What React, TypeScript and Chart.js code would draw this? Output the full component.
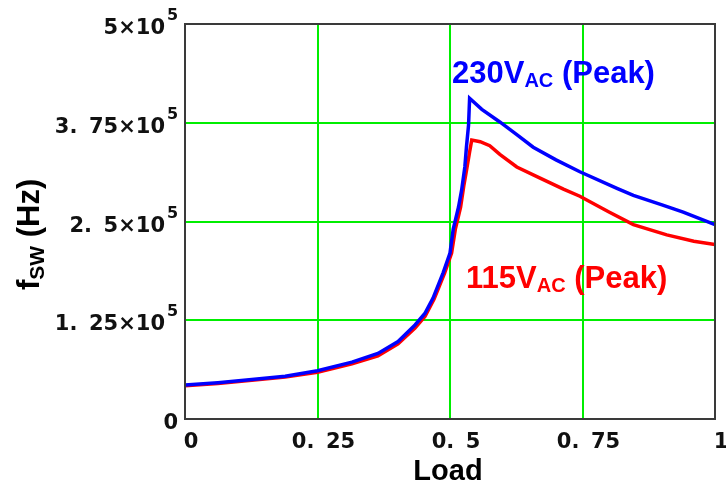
import React, { useEffect, useRef } from 'react';
import { Chart, registerables } from 'chart.js';

Chart.register(...registerables);

// ---- data ----
const load230 = [0, 0.062, 0.126, 0.189, 0.25, 0.315, 0.364, 0.402, 0.434, 0.453, 0.468, 0.487, 0.5, 0.506, 0.516, 0.522, 0.528, 0.531, 0.535, 0.537, 0.56, 0.594, 0.626, 0.657, 0.7, 0.745, 0.815, 0.846, 0.9, 0.94, 1.0];
const fsw230 = [43000, 46000, 50000, 54000, 61000, 72000, 83000, 98000, 119000, 134000, 153000, 185000, 210000, 240000, 268000, 290000, 319000, 344000, 372000, 406000, 392000, 376000, 360000, 344000, 328000, 313000, 292000, 283000, 271000, 262000, 246000];

const load115 = [0, 0.062, 0.126, 0.189, 0.25, 0.315, 0.364, 0.402, 0.434, 0.453, 0.47, 0.49, 0.503, 0.51, 0.52, 0.526, 0.532, 0.537, 0.541, 0.557, 0.575, 0.594, 0.626, 0.67, 0.714, 0.745, 0.8, 0.846, 0.909, 0.96, 1.0];
const fsw115 = [42000, 45000, 49000, 53000, 59000, 70000, 80000, 95000, 115000, 130000, 152000, 185000, 210000, 240000, 268000, 295000, 318000, 338000, 353000, 351000, 346000, 335000, 319000, 305000, 291000, 282000, 262000, 246000, 233000, 225000, 221000];

const xTickValues = [0, 0.25, 0.5, 0.75, 1];
const xTickLabels = ['0', '0.25', '0.5', '0.75', '1'];
const yTickValues = [0, 125000, 250000, 375000, 500000];
const yTickMantissas = ['0', '1.25', '2.5', '3.75', '5'];
const yTickExponent = '5';

const xTitle = 'Load';
const yTitleMain = 'f';
const yTitleSub = 'SW';
const yTitleRest = ' (Hz)';
const label230 = ['230V', 'AC', ' (Peak)'];
const label115 = ['115V', 'AC', ' (Peak)'];

const BLUE = '#0000ff';
const RED = '#ff0000';
const GRID = '#00ee00';
const SANS = '"Liberation Sans", Arial, sans-serif';
const TICKFONT = '"DejaVu Sans", sans-serif';

// Mathcad-like spaced decimal point
const spaced = (s: string) => s.replace('.', '. \u2009');

function drawSubLabel(ctx: CanvasRenderingContext2D, x: number, base: number, parts: string[], color: string) {
  ctx.fillStyle = color;
  ctx.textAlign = 'left';
  ctx.textBaseline = 'alphabetic';
  ctx.font = `bold 31px ${SANS}`;
  ctx.fillText(parts[0], x, base);
  let w = x + ctx.measureText(parts[0]).width;
  ctx.font = `bold 20px ${SANS}`;
  ctx.fillText(parts[1], w, base + 4);
  w += ctx.measureText(parts[1]).width;
  ctx.font = `bold 31px ${SANS}`;
  ctx.fillText(parts[2], w, base);
}

const textPlugin = {
  id: 'mathcadText',
  afterDraw(chart: any) {
    const { ctx, chartArea: a, scales } = chart;
    const xs = scales.x;
    const ys = scales.y;
    ctx.save();
    // frame
    ctx.strokeStyle = '#3a3a3a';
    ctx.lineWidth = 2;
    ctx.strokeRect(a.left, a.top, a.right - a.left, a.bottom - a.top);

    // x tick labels
    ctx.fillStyle = '#111';
    ctx.textBaseline = 'alphabetic';
    ctx.font = `bold 21px ${TICKFONT}`;
    ctx.textAlign = 'center';
    xTickValues.forEach((v, i) => {
      const px = xs.getPixelForValue(v);
      ctx.fillText(spaced(xTickLabels[i]), px + 6, a.bottom + 29);
    });

    // y tick labels
    yTickValues.forEach((v, i) => {
      const py = ys.getPixelForValue(v);
      const base = py + 10;
      ctx.font = `bold 21px ${TICKFONT}`;
      ctx.textAlign = 'right';
      if (v === 0) {
        ctx.fillText(yTickMantissas[i], 178, base);
        return;
      }
      ctx.fillText(spaced(yTickMantissas[i]) + '\u00d710', 165, base);
      ctx.font = `bold 16px ${TICKFONT}`;
      ctx.textAlign = 'left';
      ctx.fillText(yTickExponent, 167, base - 14);
    });

    // x title
    ctx.fillStyle = '#000';
    ctx.font = `bold 29px ${SANS}`;
    ctx.textAlign = 'center';
    ctx.fillText(xTitle, 448, 480);

    // y title (rotated)
    ctx.save();
    ctx.translate(39, 290);
    ctx.rotate(-Math.PI / 2);
    ctx.textAlign = 'left';
    ctx.font = `bold 31px ${SANS}`;
    ctx.fillText(yTitleMain, 0, 0);
    let w = ctx.measureText(yTitleMain).width;
    ctx.font = `bold 21px ${SANS}`;
    ctx.fillText(yTitleSub, w, 5);
    w += ctx.measureText(yTitleSub).width;
    ctx.font = `bold 31px ${SANS}`;
    ctx.fillText(yTitleRest, w, 0);
    ctx.restore();

    // series annotations
    drawSubLabel(ctx, 452, 83, label230, BLUE);
    drawSubLabel(ctx, 466, 288, label115, RED);

    ctx.restore();
  },
};

export default function App() {
  const ref = useRef<HTMLCanvasElement | null>(null);
  useEffect(() => {
    if (!ref.current) return;
    const chart = new Chart(ref.current, {
      type: 'line',
      data: {
        datasets: [
          {
            label: '230VAC (Peak)',
            data: load230.map((x, i) => ({ x, y: fsw230[i] })),
            borderColor: BLUE,
            borderWidth: 3.5,
            pointRadius: 0,
            tension: 0,
            fill: false,
          },
          {
            label: '115VAC (Peak)',
            data: load115.map((x, i) => ({ x, y: fsw115[i] })),
            borderColor: RED,
            borderWidth: 3.5,
            pointRadius: 0,
            tension: 0,
            fill: false,
          },
        ],
      },
      options: {
        responsive: false,
        animation: false,
        devicePixelRatio: 1,
        layout: { padding: { left: 185, right: 11, top: 24, bottom: 66 } },
        plugins: { legend: { display: false }, tooltip: { enabled: false } },
        scales: {
          x: {
            type: 'linear',
            min: 0,
            max: 1,
            ticks: { display: false, stepSize: 0.25 },
            grid: { color: GRID, lineWidth: 2, drawTicks: false },
            border: { display: false },
            afterFit: (s: any) => { s.height = 0; s.paddingLeft = 0; s.paddingRight = 0; },
          },
          y: {
            type: 'linear',
            min: 0,
            max: 500000,
            ticks: { display: false, stepSize: 125000 },
            grid: { color: GRID, lineWidth: 2, drawTicks: false },
            border: { display: false },
            afterFit: (s: any) => { s.width = 0; s.paddingTop = 0; s.paddingBottom = 0; },
          },
        },
      },
      plugins: [textPlugin],
    });
    return () => chart.destroy();
  }, []);
  return (
    <div style={{ position: 'absolute', left: 0, top: 0, width: 726, height: 485, background: '#fff' }}>
      <canvas ref={ref} width={726} height={485} />
    </div>
  );
}
